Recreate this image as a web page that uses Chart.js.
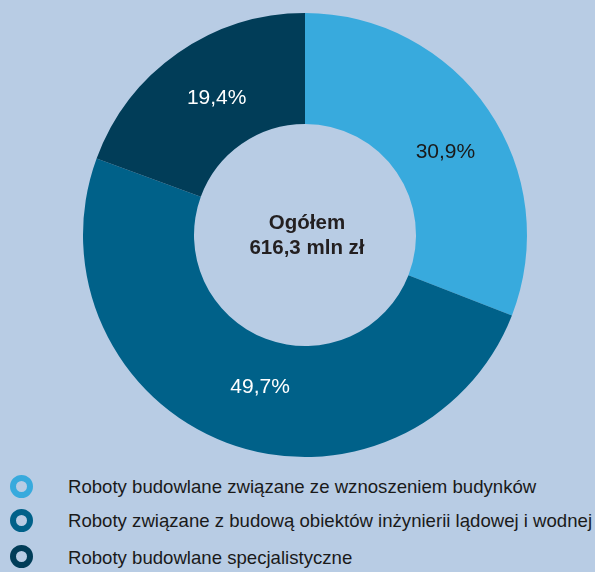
<!DOCTYPE html>
<html>
<head>
<meta charset="utf-8">
<script src="https://cdn.jsdelivr.net/npm/chart.js@4"></script>
<style>
  body { margin: 0; background: #b8cce4; font-family: "Liberation Sans", Arial, sans-serif; }
  #wrap { position: relative; width: 595px; height: 470px; }
  #legend { position: absolute; left: 0; top: 0; width: 595px; }
  .ring { position: absolute; left: 10px; width: 11px; height: 11px; border-radius: 50%; border: 6.5px solid; }
  .txt { position: absolute; left: 68px; font-size: 18.6px; line-height: 20px; color: #1a1a1a; white-space: nowrap; }
</style>
</head>
<body>
<div id="wrap"><canvas id="doughnutOgolem"></canvas></div>
<div id="legend"></div>
<script>
// dane
var chartLabels = [
  "Roboty budowlane związane ze wznoszeniem budynków",
  "Roboty związane z budową obiektów inżynierii lądowej i wodnej",
  "Roboty budowlane specjalistyczne"
];
var chartValues = [30.9, 49.7, 19.4];
var valueLabels = ["30,9%", "49,7%", "19,4%"];
var chartColors = ["#38aadd", "#006189", "#013d58"];
var labelColors = ["#1a1a1a", "#ffffff", "#ffffff"];
var centerLines = ["Ogółem", "616,3 mln zł"];

// przesunięcia etykiet względem środka wycinka
var labelShift = [[3, 17], [14, 2], [7, 6]];

var labelsPlugin = {
  id: "labelsPlugin",
  afterDatasetsDraw: function (chart) {
    var ctx = chart.ctx;
    var meta = chart.getDatasetMeta(0);
    ctx.save();
    ctx.textAlign = "center";
    ctx.textBaseline = "alphabetic";
    ctx.font = "21px 'Liberation Sans', Arial, sans-serif";
    meta.data.forEach(function (arc, i) {
      var p = arc.tooltipPosition();
      ctx.fillStyle = labelColors[i];
      ctx.fillText(valueLabels[i], p.x + labelShift[i][0], p.y + labelShift[i][1]);
    });
    var a = meta.data[0];
    ctx.fillStyle = "#231f20";
    ctx.font = "bold 20.5px 'Liberation Sans', Arial, sans-serif";
    ctx.fillText(centerLines[0], a.x + 2, a.y - 6);
    ctx.fillText(centerLines[1], a.x + 2, a.y + 19);
    ctx.restore();
  }
};

new Chart("doughnutOgolem", {
  type: "doughnut",
  data: {
    labels: chartLabels,
    datasets: [{
      data: chartValues,
      backgroundColor: chartColors,
      borderWidth: 0
    }]
  },
  options: {
    responsive: true,
    maintainAspectRatio: false,
    animation: false,
    cutout: "50%",
    layout: { padding: { top: 13, bottom: 13, left: 15, right: 0 } },
    plugins: {
      legend: { display: false },
      tooltip: { enabled: false }
    }
  },
  plugins: [labelsPlugin]
});

// legenda
var legend = document.getElementById("legend");
var ringTops = [475, 509, 545];
var textTops = [477, 511, 548];
chartLabels.forEach(function (label, i) {
  var ring = document.createElement("span");
  ring.className = "ring";
  ring.style.top = ringTops[i] + "px";
  ring.style.borderColor = chartColors[i];
  var txt = document.createElement("span");
  txt.className = "txt";
  txt.style.top = textTops[i] + "px";
  txt.textContent = label;
  legend.appendChild(ring);
  legend.appendChild(txt);
});
</script>
</body>
</html>
